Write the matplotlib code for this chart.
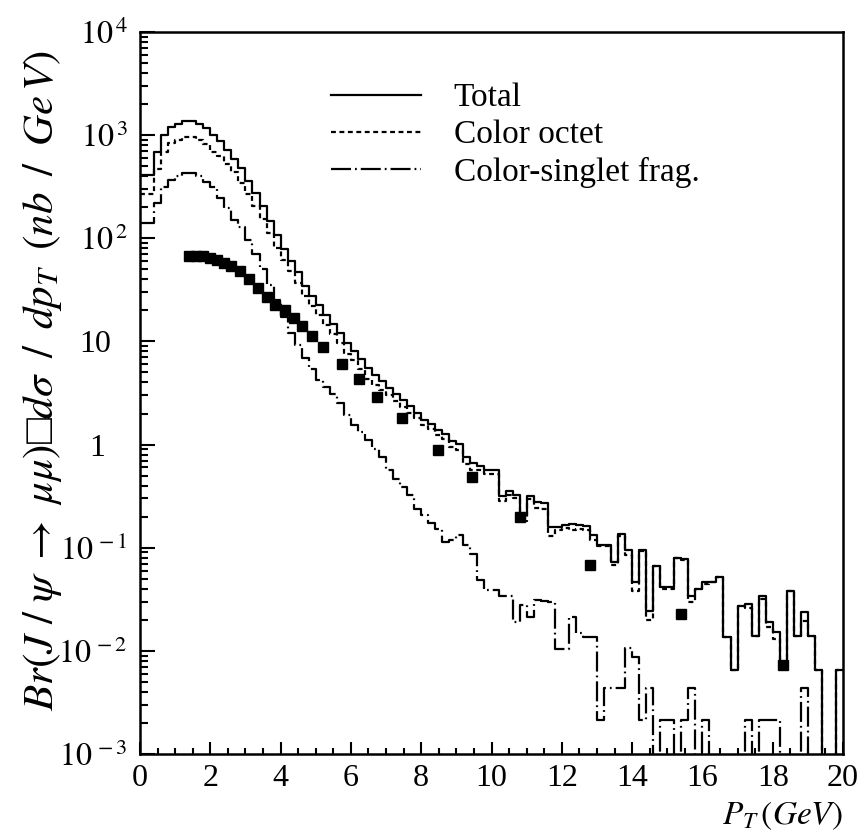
import numpy as np
import matplotlib
matplotlib.use("Agg")
import matplotlib.pyplot as plt
import matplotlib.transforms as mtransforms
from matplotlib.ticker import LogLocator, MultipleLocator, FixedLocator, FixedFormatter, NullFormatter
from matplotlib.lines import Line2D

plt.rcParams["font.family"] = ["Liberation Serif", "DejaVu Serif"]
plt.rcParams["mathtext.fontset"] = "stix"

nan = np.nan

# pT bins of 0.2 GeV from 0 to 20
bin_edges = np.linspace(0.0, 20.0, 101)

# log10 of dsigma/dpT (nb/GeV) per bin (nan = empty bin)
total_log = [
    2.61, 2.61, 2.84, 3.00, 3.08, 3.11, 3.14, 3.14, 3.11, 3.07,
    3.00, 2.94, 2.86, 2.77, 2.68, 2.56, 2.44, 2.31, 2.17, 2.03,
    1.90, 1.78, 1.67, 1.54, 1.44, 1.35, 1.26, 1.17, 1.08, 0.98,
    0.91, 0.83, 0.74, 0.67, 0.62, 0.55, 0.49, 0.43, 0.37, 0.31,
    0.24, 0.20, 0.14, 0.10, 0.03, 0.01, -0.12, -0.18, -0.21, -0.25,
    -0.25, -0.50, -0.45, -0.49, -0.68, -0.50, -0.56, -0.57, -0.80, -0.80,
    -0.78, -0.77, -0.78, -0.79, -0.88, -0.97, -0.97, -1.14, -0.87, -1.02,
    -1.33, -1.02, -1.61, -1.18, -1.38, -1.38, -1.10, -1.11, -1.47, -1.40,
    -1.33, -1.33, -1.28, -1.87, -2.19, -1.57, -1.55, -1.86, -1.47, -1.72,
    -1.82, -2.11, -1.42, -1.86, -1.62, -1.86, -2.19, nan, nan, -2.19,
]

octet_log = [
    2.425, 2.425, 2.675, 2.835, 2.92, 2.95, 2.98, 2.98, 2.95, 2.91,
    2.835, 2.80, 2.72, 2.64, 2.54, 2.43, 2.31, 2.19, 2.05, 1.91,
    1.79, 1.68, 1.57, 1.44, 1.34, 1.26, 1.16, 1.07, 0.98, 0.88,
    0.82, 0.735, 0.64, 0.576, 0.533, 0.476, 0.418, 0.362, 0.305, 0.255,
    0.185, 0.149, 0.09, 0.057, -0.02, -0.05, -0.187, -0.242, -0.246, -0.281,
    -0.281, -0.55, -0.493, -0.516, -0.742, -0.53, -0.613, -0.62, -0.89, -0.83,
    -0.81, -0.827, -0.82, -0.827, -0.927, -0.979, -0.988, -1.168, -0.883, -1.07,
    -1.42, -1.03, -1.70, -1.18, -1.40, -1.40, -1.10, -1.12, -1.53, -1.40,
    -1.35, -1.33, -1.28, -1.87, -2.19, -1.57, -1.58, -1.86, -1.50, -1.77,
    -1.886, -2.11, -1.42, -1.86, -1.71, -1.86, -2.19, nan, nan, -2.19,
]

singlet_log = [
    2.15, 2.15, 2.34, 2.50, 2.565, 2.60, 2.63, 2.63, 2.60, 2.55,
    2.50, 2.39, 2.29, 2.18, 2.11, 1.98, 1.85, 1.70, 1.55, 1.40,
    1.24, 1.08, 0.97, 0.84, 0.73, 0.63, 0.56, 0.49, 0.40, 0.29,
    0.19, 0.12, 0.04, -0.04, -0.12, -0.25, -0.33, -0.41, -0.49, -0.62,
    -0.68, -0.76, -0.82, -0.94, -0.93, -0.88, -0.97, -1.06, -1.31, -1.41,
    -1.41, -1.47, -1.47, -1.72, -1.56, -1.67, -1.51, -1.52, -1.53, -1.98,
    -1.98, -1.67, -1.83, -1.87, -1.87, -2.67, -2.36, -2.36, -2.36, -1.97,
    -2.06, -2.67, -2.36, nan, -2.67, -2.67, nan, -2.67, -2.36, nan,
    -2.67, nan, nan, nan, nan, nan, -2.67, nan, -2.67, -2.67,
    -2.67, nan, nan, nan, -2.36, nan, nan, nan, nan, nan,
]

# data points (squares)
data_pt = [1.4, 1.6, 1.8, 2.0, 2.2, 2.4, 2.6, 2.85, 3.1, 3.35, 3.6, 3.85,
           4.12, 4.38, 4.62, 4.88, 5.22, 5.74, 6.22, 6.73, 7.45, 8.48,
           9.45, 10.8, 12.8, 15.4, 18.3]
data_val = [67, 68, 67, 65, 62, 58, 54, 48, 40, 33, 27, 22.5,
            20, 16.7, 14, 11.4, 8.9, 6.1, 4.3, 2.9, 1.8, 0.88,
            0.48, 0.20, 0.068, 0.0226, 0.0073]

ytick_vals = [1e-3, 1e-2, 1e-1, 1, 10, 1e2, 1e3, 1e4]
ytick_labels = [r"$10^{\,-3}$", r"$10^{\,-2}$", r"$10^{\,-1}$", "1", "10",
                r"$10^{\,2}$", r"$10^{\,3}$", r"$10^{\,4}$"]


def to_values(logs):
    arr = np.array(logs, dtype=float)
    return np.where(np.isnan(arr), 0.0, 10.0 ** arr)


def main():
    fig = plt.figure(figsize=(8.67, 8.40), dpi=100)
    ax = fig.add_axes([0.1615, 0.1024, 0.8108, 0.8595])

    lw = 1.6
    dash = (0, (2.2, 1.6))
    dashdot = (0, (9, 1.8, 0.8, 1.8))
    for logs, ls in [(total_log, "-"), (octet_log, dash), (singlet_log, dashdot)]:
        vals = to_values(logs)
        ax.step(bin_edges, np.append(vals, vals[-1]), where="post",
                color="black", lw=lw, linestyle=ls)

    ax.plot(data_pt, data_val, "s", color="black", ms=6.5, mec="black")

    ax.set_yscale("log", nonpositive="clip")
    ax.set_xlim(0, 20)
    ax.set_ylim(1e-3, 1e4)

    ax.xaxis.set_major_locator(MultipleLocator(2))
    ax.xaxis.set_minor_locator(MultipleLocator(0.5))
    ax.yaxis.set_major_locator(FixedLocator(ytick_vals))
    ax.yaxis.set_major_formatter(FixedFormatter(ytick_labels))
    ax.yaxis.set_minor_locator(LogLocator(base=10, subs=np.arange(2, 10)))
    ax.yaxis.set_minor_formatter(NullFormatter())

    ax.tick_params(which="both", direction="in", top=False, right=False,
                   width=1.5, labelsize=23)
    ax.tick_params(axis="x", which="major", length=9, pad=7)
    ax.tick_params(axis="x", which="minor", length=4.5)
    ax.tick_params(axis="y", which="major", length=11, pad=9)
    ax.tick_params(axis="y", which="minor", length=6)
    for sp in ax.spines.values():
        sp.set_linewidth(1.8)

    # plain "1" and "10" sit left of the exponent column, as in the original
    fig.canvas.draw()
    shift = {"1": -22 / 100, "10": -16 / 100}
    for lab in ax.get_yticklabels():
        txt = lab.get_text()
        if txt in shift:
            off = mtransforms.ScaledTranslation(shift[txt], 0, fig.dpi_scale_trans)
            lab.set_transform(lab.get_transform() + off)

    ax.set_xlabel(r"$P_T\,(GeV)$", fontsize=24, loc="right", labelpad=5)
    ax.set_ylabel(r"$Br(J\ /\ \psi\ \rightarrow\ \mu\mu)$" + "\u25a1" +
                  r"$d\sigma\;\;/\;\;dp_T\;\;(nb\;\;/\;\;Ge\,V)$", fontsize=31)
    ax.yaxis.set_label_coords(-0.108, 0.517)

    handles = [Line2D([], [], color="black", lw=lw, linestyle="-"),
               Line2D([], [], color="black", lw=lw, linestyle=dash),
               Line2D([], [], color="black", lw=lw, linestyle=dashdot)]
    ax.legend(handles, ["Total", "Color octet", "Color-singlet frag."],
              loc="upper left", bbox_to_anchor=(0.252, 0.948), frameon=False,
              fontsize=24, handlelength=2.7, handletextpad=1.0,
              labelspacing=0.19, borderaxespad=0)

    fig.savefig("out.png", dpi=100)
    plt.close(fig)


if __name__ == "__main__":
    main()
